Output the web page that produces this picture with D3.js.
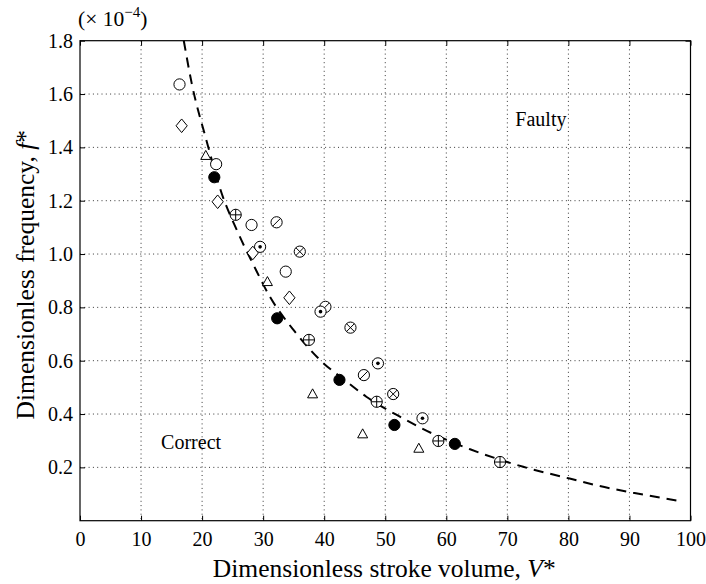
<!DOCTYPE html>
<html>
<head>
<meta charset="utf-8">
<script src="https://cdn.jsdelivr.net/npm/d3@7"></script>
<style>
  body { margin: 0; background: #fff; }
  svg { display: block; }
  text { font-family: "Liberation Serif", "Times New Roman", serif; fill: #000; }
</style>
</head>
<body>
<div id="chart"></div>
<script>
// axis ticks
const xTicks = [0, 10, 20, 30, 40, 50, 60, 70, 80, 90, 100];
const yTicks = [0.2, 0.4, 0.6, 0.8, 1.0, 1.2, 1.4, 1.6, 1.8];

// measured points, [V*, f* (x 1e-4)]
const openCircles = [[16.3, 1.636], [22.3, 1.337], [28.1, 1.109], [33.7, 0.934]];
const diamonds = [[16.65, 1.481], [22.55, 1.196], [28.3, 1.004], [34.3, 0.836]];
const triangles = [[20.6, 1.369], [30.7, 0.896], [38.1, 0.475], [46.3, 0.325], [55.5, 0.271]];
const filledCircles = [[22.0, 1.288], [32.3, 0.759], [42.5, 0.528], [51.5, 0.359], [61.4, 0.288]];
const circlePlus = [[25.5, 1.147], [37.5, 0.678], [48.6, 0.446], [58.7, 0.299], [68.8, 0.220]];
const circleSlash = [[32.2, 1.119], [40.2, 0.802], [46.5, 0.546]];
const circleDot = [[29.5, 1.027], [39.4, 0.784], [48.8, 0.590], [56.1, 0.384]];
const circleCross = [[36.0, 1.009], [44.3, 0.724], [51.3, 0.475]];

// boundary curve
const boundaryV = [17.0, 18.3, 20.7, 23.2, 25.8, 28.4, 31.1, 35.2, 39.3, 43.7, 46.9, 52.4, 57.9, 63.9, 72.6, 80.2, 85.1, 90.6, 98.2];
const boundaryF = [1.80, 1.64, 1.427, 1.228, 1.084, 0.96, 0.84, 0.709, 0.603, 0.521, 0.465, 0.39, 0.325, 0.268, 0.202, 0.158, 0.13, 0.105, 0.074];

const W = 706, H = 584;
const margin = { top: 40.7, right: 15.5, bottom: 63.3, left: 80 };
const width = W - margin.left - margin.right;
const height = H - margin.top - margin.bottom;
const serif = '"Liberation Serif", "Times New Roman", serif';

const svg = d3.select('#chart').append('svg')
  .attr('width', W)
  .attr('height', H)
  .attr('font-family', serif);

const g = svg.append('g')
  .attr('transform', `translate(${margin.left},${margin.top})`);

const x = d3.scaleLinear().domain([0, 100]).range([0, width]);
const y = d3.scaleLinear().domain([0, 1.8]).range([height, 0]);

// dotted grid
g.append('g')
  .selectAll('line')
  .data(xTicks.filter(d => d > 0 && d < 100))
  .join('line')
  .attr('x1', d => x(d)).attr('x2', d => x(d))
  .attr('y1', 0).attr('y2', height)
  .attr('stroke', '#000')
  .attr('stroke-width', 0.8)
  .attr('stroke-dasharray', '1,3.3');

g.append('g')
  .selectAll('line')
  .data(yTicks.filter(d => d < 1.8))
  .join('line')
  .attr('x1', 0).attr('x2', width)
  .attr('y1', d => y(d)).attr('y2', d => y(d))
  .attr('stroke', '#000')
  .attr('stroke-width', 0.8)
  .attr('stroke-dasharray', '1,3.3');

// axes with inward ticks
const tickLen = 5;
const fontSize = 20;

g.append('g')
  .attr('transform', `translate(0,${height})`)
  .call(d3.axisBottom(x).tickValues(xTicks).tickSize(-tickLen).tickPadding(11).tickFormat(d3.format('d')))
  .attr('font-family', serif)
  .attr('font-size', fontSize);
g.append('g')
  .call(d3.axisLeft(y).tickValues(yTicks).tickSize(-tickLen).tickPadding(7).tickFormat(d3.format('.1f')))
  .attr('font-family', serif)
  .attr('font-size', fontSize);
g.append('g')
  .call(d3.axisTop(x).tickValues(xTicks).tickSize(-tickLen).tickFormat(''));
g.append('g')
  .attr('transform', `translate(${width},0)`)
  .call(d3.axisRight(y).tickValues(yTicks).tickSize(-tickLen).tickFormat(''));

g.selectAll('.domain').remove();
g.selectAll('.tick line').attr('stroke', '#000').attr('stroke-width', 1);
g.selectAll('.tick text').attr('fill', '#000');

// frame
g.append('rect')
  .attr('width', width)
  .attr('height', height)
  .attr('fill', 'none')
  .attr('stroke', '#000')
  .attr('stroke-width', 1.2);

// boundary line
const curveData = boundaryV.map((v, i) => [v, boundaryF[i]]);
g.append('path')
  .datum(curveData)
  .attr('fill', 'none')
  .attr('stroke', '#000')
  .attr('stroke-width', 2)
  .attr('stroke-dasharray', '10,7')
  .attr('d', d3.line().x(d => x(d[0])).y(d => y(d[1])).curve(d3.curveMonotoneX));

// markers
const R = 5.6;
const addCircles = (data, fill, decorate) => {
  const m = g.append('g').selectAll('g')
    .data(data)
    .join('g')
    .attr('transform', d => `translate(${x(d[0])},${y(d[1])})`);
  m.append('circle')
    .attr('r', R)
    .attr('fill', fill)
    .attr('stroke', '#000')
    .attr('stroke-width', 1);
  if (decorate) decorate(m);
};

addCircles(openCircles, '#fff');
addCircles(filledCircles, '#000');
addCircles(circlePlus, '#fff', m => {
  m.append('path').attr('d', `M${-R},0H${R}M0,${-R}V${R}`).attr('stroke', '#000').attr('stroke-width', 1);
});
addCircles(circleCross, '#fff', m => {
  const k = R * 0.707;
  m.append('path').attr('d', `M${-k},${-k}L${k},${k}M${-k},${k}L${k},${-k}`).attr('stroke', '#000').attr('stroke-width', 1);
});
addCircles(circleSlash, '#fff', m => {
  const k = R * 0.707;
  m.append('path').attr('d', `M${-k},${k}L${k},${-k}`).attr('stroke', '#000').attr('stroke-width', 1);
});
addCircles(circleDot, '#fff', m => {
  m.append('circle').attr('r', 1.8).attr('fill', '#000');
});

// diamonds
g.append('g').selectAll('path')
  .data(diamonds)
  .join('path')
  .attr('transform', d => `translate(${x(d[0])},${y(d[1])})`)
  .attr('d', 'M0,-6.8L5.6,0L0,6.8L-5.6,0Z')
  .attr('fill', '#fff')
  .attr('stroke', '#000')
  .attr('stroke-width', 1);

// triangles
g.append('g').selectAll('path')
  .data(triangles)
  .join('path')
  .attr('transform', d => `translate(${x(d[0])},${y(d[1])})`)
  .attr('d', 'M0,-5.2L5,3.8L-5,3.8Z')
  .attr('fill', '#fff')
  .attr('stroke', '#000')
  .attr('stroke-width', 1);

// region labels
g.append('text')
  .attr('x', x(75.5))
  .attr('y', 126 - margin.top)
  .attr('text-anchor', 'middle')
  .attr('font-size', 20)
  .text('Faulty');
g.append('text')
  .attr('x', x(18.2))
  .attr('y', 449 - margin.top)
  .attr('text-anchor', 'middle')
  .attr('font-size', 20)
  .text('Correct');

// exponent note
const expo = svg.append('text')
  .attr('x', 78)
  .attr('y', 26)
  .attr('font-size', 21.5);
expo.append('tspan').text('(× 10');
expo.append('tspan').attr('dy', -9).attr('font-size', 15).text('−4');
expo.append('tspan').attr('dy', 9).text(')');

// axis titles
const xTitle = svg.append('text')
  .attr('x', margin.left + width / 2 - 1)
  .attr('y', 577)
  .attr('text-anchor', 'middle')
  .attr('font-size', 25.5);
xTitle.append('tspan').text('Dimensionless stroke volume, ');
xTitle.append('tspan').attr('font-style', 'italic').text('V');
xTitle.append('tspan').text('*');

const yTitle = svg.append('text')
  .attr('transform', `translate(34,${margin.top + height / 2 - 6}) rotate(-90)`)
  .attr('text-anchor', 'middle')
  .attr('font-size', 25.5);
yTitle.append('tspan').text('Dimensionless frequency, ');
yTitle.append('tspan').attr('font-style', 'italic').text('f');
yTitle.append('tspan').text('*');
</script>
</body>
</html>
